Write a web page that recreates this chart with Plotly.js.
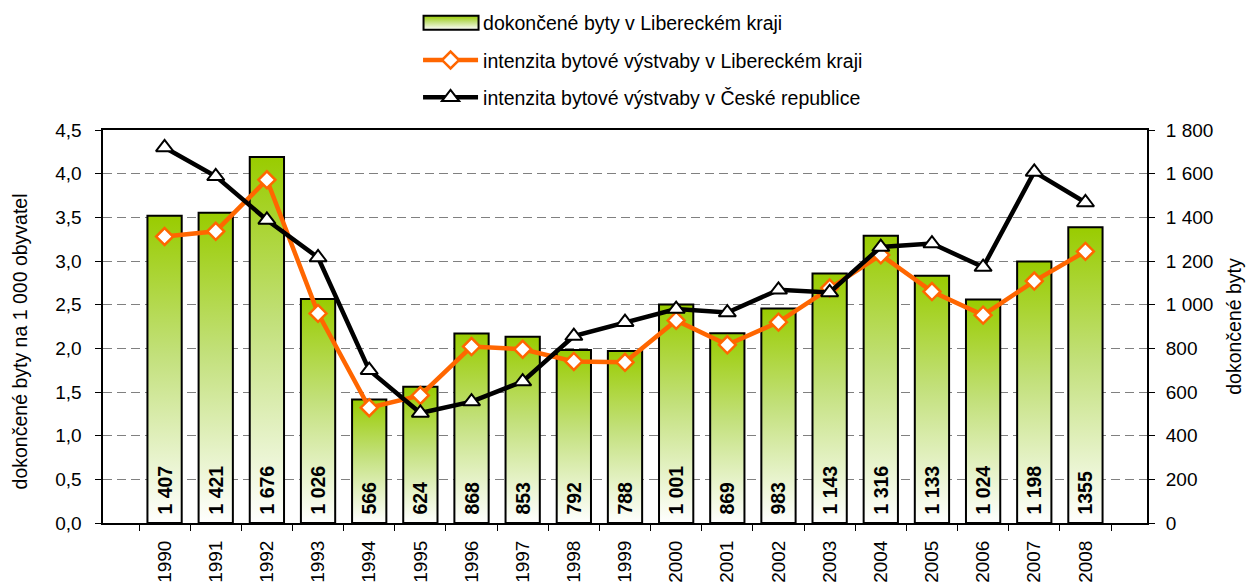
<!DOCTYPE html>
<html>
<head>
<meta charset="utf-8">
<script src="https://cdn.plot.ly/plotly-3.0.1.min.js"></script>
<style>
  html, body { margin: 0; padding: 0; background: #fff; overflow: hidden; }
  #chart { width: 1252px; height: 582px; }
</style>
</head>
<body>
<div id="chart"></div>
<script>
const years = ['1990','1991','1992','1993','1994','1995','1996','1997','1998','1999','2000','2001','2002','2003','2004','2005','2006','2007','2008'];
const dwellingsLiberec = [1407,1421,1676,1026,566,624,868,853,792,788,1001,869,983,1143,1316,1133,1024,1198,1355];
const dwellingLabels = ['1 407','1 421','1 676','1 026','566','624','868','853','792','788','1 001','869','983','1 143','1 316','1 133','1 024','1 198','1355'];
const intensityLiberec = [3.28,3.34,3.93,2.40,1.32,1.46,2.02,1.99,1.85,1.84,2.32,2.04,2.30,2.69,3.07,2.65,2.38,2.77,3.11];
const intensityCR = [4.30,3.97,3.47,3.04,1.75,1.26,1.39,1.62,2.14,2.30,2.45,2.41,2.67,2.64,3.16,3.20,2.93,4.02,3.67];
const leftTitle = 'dokončené byty na 1 000 obyvatel';
const rightTitle = 'dokončené byty';

const FONT = 'Liberation Sans, Arial, sans-serif';
const TICK = 19;

const traces = [
  {
    type: 'bar', x: years, y: dwellingsLiberec, yaxis: 'y',
    name: 'dokončené byty v Libereckém kraji', legendgroup: 'a',
    text: dwellingLabels, texttemplate: '\u00a0%{text}',
    textposition: 'inside', insidetextanchor: 'start',
    textangle: -90, constraintext: 'none',
    insidetextfont: { family: FONT, size: 19.5, color: '#000', weight: 'bold' },
    marker: { color: '#99cc00', line: { color: '#000', width: 2 } }
  },
  {
    type: 'scatter', mode: 'lines+markers', x: years, y: intensityLiberec, yaxis: 'y2',
    name: 'intenzita bytové výstvaby v Libereckém kraji', legendgroup: 'b',
    line: { color: '#ff6600', width: 4.5 },
    marker: { symbol: 'diamond', size: 13, color: '#fff', line: { color: '#ff6600', width: 2.5 } }
  },
  {
    type: 'scatter', mode: 'lines+markers', x: years, y: intensityCR, yaxis: 'y2',
    name: 'intenzita bytové výstvaby v České republice', legendgroup: 'c',
    line: { color: '#000', width: 4.5 },
    marker: { symbol: 'triangle-up', size: 15, color: '#fff', line: { color: '#000', width: 2 } }
  }
];

const layout = {
  width: 1252, height: 582,
  margin: { l: 103, r: 105, t: 130, b: 59, pad: 0, autoexpand: false },
  paper_bgcolor: '#fff', plot_bgcolor: '#fff',
  font: { family: FONT, size: 19.5, color: '#000' },
  separators: ', ',
  bargap: 0.33,
  showlegend: true,
  legend: {
    xref: 'container', yref: 'container',
    x: 0.3339, y: 0.994, xanchor: 'left', yanchor: 'top',
    traceorder: 'grouped', tracegroupgap: 9, itemwidth: 55,
    font: { family: FONT, size: 19.5, color: '#000' },
    bgcolor: 'rgba(0,0,0,0)'
  },
  annotations: [{
    text: leftTitle, xref: 'paper', yref: 'paper', x: -0.0795, y: 0.462,
    xanchor: 'center', yanchor: 'middle', textangle: -90, showarrow: false,
    font: { family: FONT, size: 19.5, color: '#000' }
  }],
  xaxis: {
    type: 'category', tickangle: -90, tickson: 'boundaries',
    ticks: 'outside', ticklen: 6, tickwidth: 1, tickcolor: '#000',
    ticklabelstandoff: 8,
    showline: true, linecolor: '#000', linewidth: 2, mirror: true,
    showgrid: false, automargin: false,
    tickfont: { family: FONT, size: TICK }
  },
  yaxis: {
    range: [0, 1800], dtick: 200, side: 'right', tickformat: ',d',
    ticks: 'outside', ticklen: 6, tickwidth: 1, tickcolor: '#000',
    ticklabelstandoff: 7,
    showline: true, linecolor: '#000', linewidth: 2,
    showgrid: true, gridcolor: '#808080', gridwidth: 1, griddash: '9px,5px',
    zeroline: false, automargin: false,
    title: { text: rightTitle, font: { family: FONT, size: 19.5 }, standoff: 15 },
    tickfont: { family: FONT, size: TICK }
  },
  yaxis2: {
    range: [0, 4.5], dtick: 0.5, side: 'left', overlaying: 'y', tickformat: '.1f',
    ticksuffix: '\u2002',
    ticks: 'outside', ticklen: 6, tickwidth: 1, tickcolor: '#000',
    showline: true, linecolor: '#000', linewidth: 2,
    showgrid: false, zeroline: false, automargin: false,
    tickfont: { family: FONT, size: TICK }
  }
};

Plotly.newPlot('chart', traces, layout, { displayModeBar: false, staticPlot: true }).then(gd => {
  const svgNS = 'http://www.w3.org/2000/svg';
  const svg = gd.querySelector('svg.main-svg');
  let defs = svg.querySelector('defs');
  if (!defs) { defs = document.createElementNS(svgNS, 'defs'); svg.insertBefore(defs, svg.firstChild); }
  const grad = document.createElementNS(svgNS, 'linearGradient');
  grad.setAttribute('id', 'barGrad');
  grad.setAttribute('x1', '0'); grad.setAttribute('y1', '0');
  grad.setAttribute('x2', '0'); grad.setAttribute('y2', '1');
  [['0', '#99cc00'], ['0.45', '#c2e07a'], ['1', '#ffffff']].forEach(([o, c]) => {
    const s = document.createElementNS(svgNS, 'stop');
    s.setAttribute('offset', o); s.setAttribute('stop-color', c);
    grad.appendChild(s);
  });
  defs.appendChild(grad);
  gd.querySelectorAll('.barlayer .point path').forEach(p => { p.style.fill = 'url(#barGrad)'; });
  const legendTraces = gd.querySelectorAll('.legend g.traces');
  if (legendTraces.length) {
    legendTraces[0].querySelectorAll('.legendpoints path').forEach(p => {
      p.setAttribute('d', 'M28,7H-27V-7H28Z');
      p.style.fill = 'url(#barGrad)';
      p.style.stroke = '#000';
      p.style.strokeWidth = '2px';
    });
  }
});
</script>
</body>
</html>
